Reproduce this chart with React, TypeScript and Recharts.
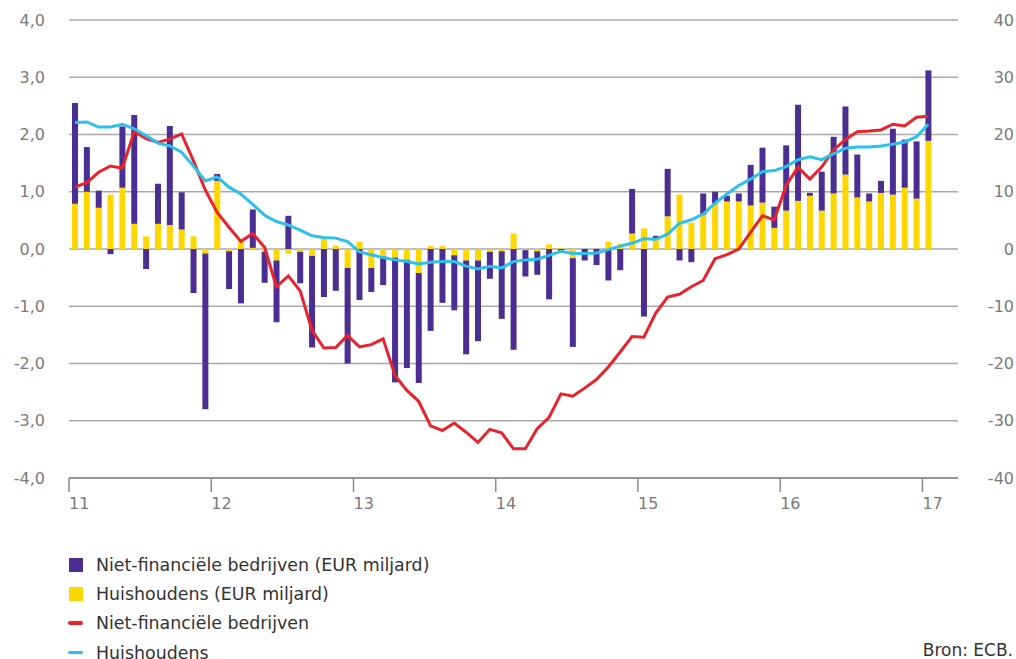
import { ComposedChart, Bar, Line, XAxis, YAxis, CartesianGrid } from "recharts";

// maanden jan 2011 t/m jan 2017
const yearLabels = ["11", "12", "13", "14", "15", "16", "17"];

// balken, EUR miljard (linkeras)
const huishoudensBars = [
  0.79, 1.0, 0.72, 0.95, 1.07, 0.44, 0.22, 0.44, 0.42, 0.34, 0.22, -0.08,
  1.19, -0.04, 0.12, 0.02, -0.05, -0.2, -0.08, -0.05, -0.12, 0.2, 0.06, -0.33,
  0.13, -0.33, -0.13, -0.15, -0.19, -0.42, 0.05, 0.05, -0.11, -0.2, -0.2, -0.05,
  -0.04, 0.27, -0.02, -0.04, 0.08, 0.02, -0.16, 0.0, 0.0, 0.13, 0.09, 0.27,
  0.36, 0.17, 0.57, 0.95, 0.46, 0.6, 0.8, 0.83, 0.83, 0.76, 0.81, 0.37,
  0.67, 0.84, 0.93, 0.67, 0.97, 1.3, 0.9, 0.83, 0.98, 0.95, 1.07, 0.88,
  1.89,
];
const bedrijvenBars = [
  1.76, 0.78, 0.3, -0.09, 1.07, 1.9, -0.35, 0.7, 1.73, 0.65, -0.77, -2.72,
  0.12, -0.66, -0.95, 0.67, -0.54, -1.08, 0.58, -0.55, -1.6, -0.84, -0.73, -1.67,
  -0.89, -0.42, -0.5, -2.18, -1.89, -1.92, -1.43, -0.94, -0.96, -1.64, -1.41, -0.47,
  -1.18, -1.76, -0.46, -0.41, -0.88, -0.03, -1.55, -0.2, -0.28, -0.55, -0.37, 0.78,
  -1.18, 0.06, 0.83, -0.2, -0.23, 0.37, 0.2, 0.1, 0.14, 0.71, 0.96, 0.37,
  1.14, 1.68, 0.05, 0.68, 0.99, 1.19, 0.75, 0.14, 0.21, 1.15, 0.84, 1.0,
  1.23,
];

// lijnen (rechteras)
const bedrijvenLijn = [
  10.8, 11.6, 13.4, 14.5, 14.1, 20.5, 19.3, 18.6, 19.2, 20.1, 15.4, 10.3,
  6.4, 3.8, 1.3, 2.7, 0.3, -6.6, -4.7, -7.3, -14.2, -17.3, -17.2, -15.1,
  -17.1, -16.7, -15.7, -22.1, -24.7, -26.6, -30.9, -31.7, -30.4, -32.0, -33.8, -31.5,
  -32.1, -34.9, -34.9, -31.4, -29.4, -25.3, -25.7, -24.3, -22.8, -20.6, -18.0, -15.3,
  -15.4, -11.2, -8.4, -7.9, -6.6, -5.5, -1.7, -1.0, 0.0, 2.9, 5.8, 5.1,
  11.1, 14.3, 12.2, 14.3, 17.3, 19.1, 20.5, 20.6, 20.8, 21.8, 21.5, 23.0,
  23.2,
];
const huishoudensLijn = [
  22.1, 22.2, 21.3, 21.3, 21.8, 21.0, 19.8, 18.5, 18.0, 16.9, 14.5, 11.9,
  12.6, 10.8, 9.6, 7.8, 5.9, 4.8, 4.2, 3.3, 2.3, 2.0, 1.9, 1.3,
  -0.5, -1.0, -1.5, -1.9, -2.2, -2.6, -2.3, -2.2, -2.2, -3.0, -3.5, -3.0,
  -3.3, -2.2, -1.9, -1.8, -1.1, -0.4, -0.8, -0.8, -0.7, -0.1, 0.5, 1.0,
  1.8, 1.7, 2.6, 4.5, 5.1, 6.1, 8.0, 9.6, 11.1, 12.2, 13.5, 13.7,
  14.4, 15.6, 16.1, 15.6, 16.6, 17.6, 17.8, 17.8, 18.0, 18.3, 18.7, 19.6,
  21.8,
];

const leftTicks = [-4, -3, -2, -1, 0, 1, 2, 3, 4];
const rightTicks = [-40, -30, -20, -10, 0, 10, 20, 30, 40];
const yearTicks = yearLabels.map((_, i) => i * 12);

const data = bedrijvenBars.map((v, i) => ({
  pos: i + 0.5,
  nfc: v,
  hh: huishoudensBars[i],
  nfcLine: bedrijvenLijn[i],
  hhLine: huishoudensLijn[i],
}));

const PURPLE = "#4b2e91";
const YELLOW = "#ffd700";
const RED = "#e8232b";
const CYAN = "#2cc0ec";
const AXIS_TEXT = "#7a7a7a";
const FONT = "'DejaVu Sans', sans-serif";

const YearTick = (props: any) => {
  const { x, y, payload } = props;
  return (
    <text x={x} y={y} dy="0.71em" textAnchor="start" fill={AXIS_TEXT} fontSize={16} fontFamily={FONT}>
      {yearLabels[payload.value / 12]}
    </text>
  );
};

const LeftTick = (props: any) => {
  const { x, y, payload } = props;
  return (
    <text x={x} y={y} dy="0.35em" textAnchor="end" fill={AXIS_TEXT} fontSize={16} fontFamily={FONT}>
      {payload.value.toFixed(1).replace(".", ",")}
    </text>
  );
};

const RightTick = (props: any) => {
  const { x, y, payload } = props;
  return (
    <text x={x} y={y} dy="0.35em" textAnchor="end" fill={AXIS_TEXT} fontSize={16} fontFamily={FONT}>
      {payload.value}
    </text>
  );
};

const legendItems = [
  { label: "Niet-financiële bedrijven (EUR miljard)", color: PURPLE, kind: "box" },
  { label: "Huishoudens (EUR miljard)", color: YELLOW, kind: "box" },
  { label: "Niet-financiële bedrijven", color: RED, kind: "line" },
  { label: "Huishoudens", color: CYAN, kind: "line" },
];

export default function App() {
  return (
    <div
      style={{
        position: "absolute",
        left: 0,
        top: 0,
        width: 1016,
        height: 659,
        overflow: "hidden",
        background: "#fff",
        fontFamily: FONT,
      }}
    >
      <ComposedChart
        width={1016}
        height={520}
        data={data}
        stackOffset="sign"
        margin={{ top: 20, right: 0, bottom: 0, left: 0 }}
      >
        <CartesianGrid yAxisId="left" vertical={false} stroke="#a9a9a9" strokeWidth={1.5} />
        <XAxis
          dataKey="pos"
          type="number"
          domain={[0, 75]}
          ticks={yearTicks}
          tick={<YearTick />}
          height={42}
          tickSize={14}
          tickMargin={6}
          axisLine={{ stroke: "#8a8a8a", strokeWidth: 1.5 }}
          tickLine={{ stroke: "#8a8a8a", strokeWidth: 1.5 }}
          allowDataOverflow
        />
        <YAxis
          yAxisId="left"
          orientation="left"
          domain={[-4, 4]}
          ticks={leftTicks}
          width={69}
          axisLine={false}
          tickLine={false}
          tickSize={6}
          tickMargin={18}
          tick={<LeftTick />}
          allowDataOverflow
        />
        <YAxis
          yAxisId="right"
          orientation="right"
          domain={[-40, 40]}
          ticks={rightTicks}
          width={58}
          axisLine={false}
          tickLine={false}
          tickSize={6}
          tickMargin={50}
          tick={<RightTick />}
          allowDataOverflow
        />
        <Bar dataKey="hh" stackId="a" yAxisId="left" fill={YELLOW} barSize={6} isAnimationActive={false} />
        <Bar dataKey="nfc" stackId="a" yAxisId="left" fill={PURPLE} barSize={6} isAnimationActive={false} />
        <Line
          dataKey="nfcLine"
          yAxisId="right"
          type="linear"
          stroke={RED}
          strokeWidth={3}
          dot={false}
          activeDot={false}
          isAnimationActive={false}
        />
        <Line
          dataKey="hhLine"
          yAxisId="right"
          type="linear"
          stroke={CYAN}
          strokeWidth={3}
          dot={false}
          activeDot={false}
          isAnimationActive={false}
        />
      </ComposedChart>

      <div style={{ position: "absolute", left: 68, top: 550 }}>
        {legendItems.map((item) => (
          <div
            key={item.label}
            style={{ display: "flex", alignItems: "center", height: 29.3, fontSize: 17.4, color: "#333" }}
          >
            {item.kind === "box" ? (
              <span style={{ display: "inline-block", width: 14, height: 14, background: item.color, marginLeft: 1 }} />
            ) : (
              <span style={{ display: "inline-block", width: 15, height: 3.5, background: item.color, borderRadius: 2 }} />
            )}
            <span style={{ marginLeft: 13 }}>{item.label}</span>
          </div>
        ))}
      </div>

      <div style={{ position: "absolute", right: 3, top: 640, fontSize: 17, color: "#333" }}>Bron: ECB.</div>
    </div>
  );
}
